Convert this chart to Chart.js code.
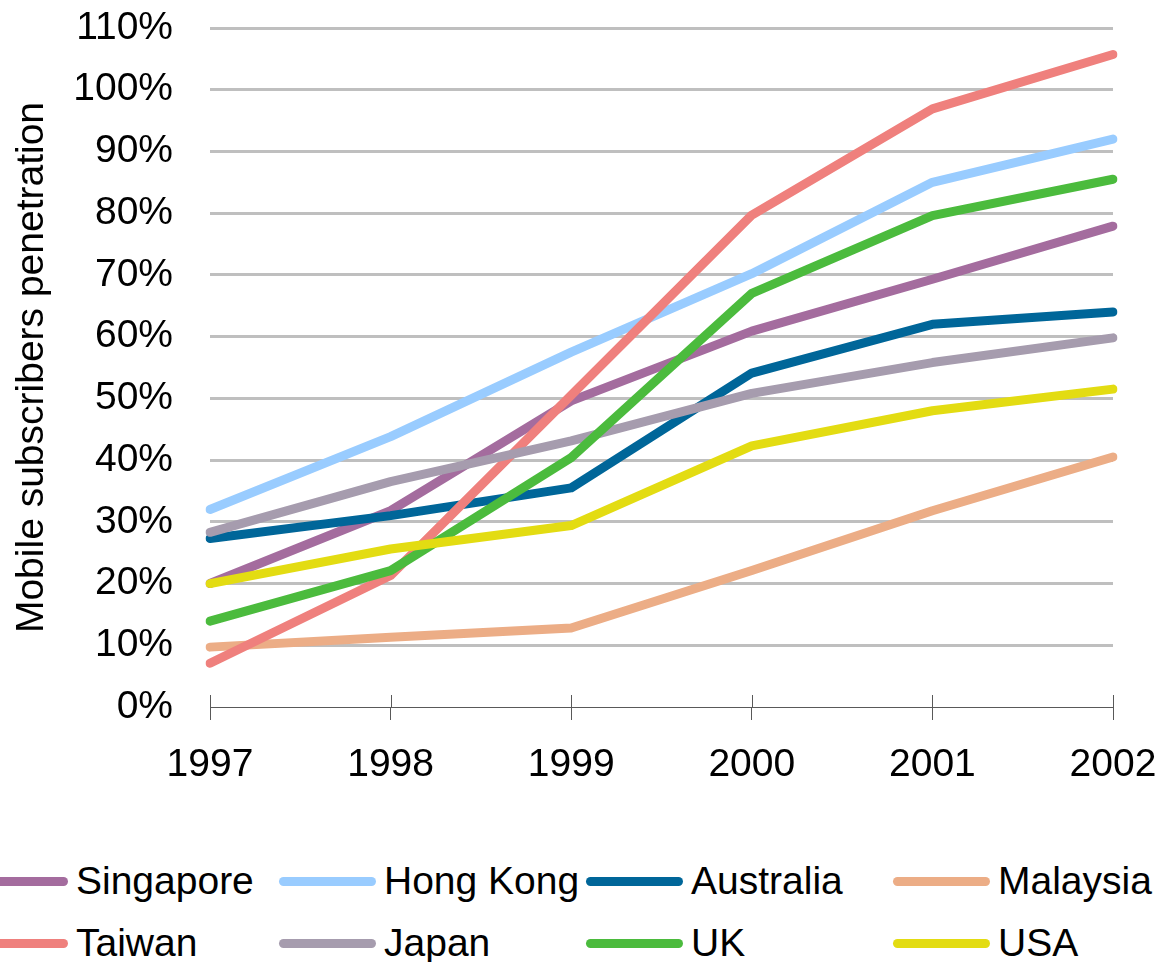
<!DOCTYPE html>
<html>
<head>
<meta charset="utf-8">
<script src="https://cdn.jsdelivr.net/npm/chart.js@4"></script>
<style>
body { margin: 0; background: #fff; }
#wrap { position: relative; width: 1162px; height: 962px; overflow: hidden; }
#box { position: absolute; left: 0; top: 0; width: 1162px; height: 840px; }
.leg { position: absolute; font: 39px "Liberation Sans", Arial, sans-serif; color: #000; white-space: nowrap; line-height: 40px; padding-left: 105px; }
.leg span { position: absolute; left: 0; top: 16px; width: 97px; height: 9px; border-radius: 5px; }
</style>
</head>
<body>
<div id="wrap">
  <div id="box"><canvas id="draw"></canvas></div>
  <div id="legend"></div>
</div>
<script>
const years = ["1997", "1998", "1999", "2000", "2001", "2002"];
const names = ["Singapore", "Hong Kong", "Australia", "Malaysia", "Taiwan", "Japan", "UK", "USA"];
const colors = ["#A46C9E", "#99CCFF", "#006699", "#ECAD86", "#EF807D", "#A69CAE", "#4BBB3D", "#E3DC12"];

// penetration in %
const singapore = [20, 31.8, 49.6, 60.9, 69.3, 77.9];
const hongKong = [32, 43.8, 57.5, 70.2, 85, 92];
const australia = [27.3, 31, 35.5, 54.1, 62, 64];
const malaysia = [9.7, 11.3, 12.8, 22.1, 31.8, 40.5];
const taiwan = [7.1, 21.3, 50.5, 79.7, 96.9, 105.7];
const japan = [28.3, 36.5, 43.1, 50.8, 55.8, 59.8];
const uk = [13.9, 22.1, 40.4, 67, 79.6, 85.5];
const usa = [20, 25.6, 29.4, 42.3, 48, 51.5];

const series = [singapore, hongKong, australia, malaysia, taiwan, japan, uk, usa];

const FONT = "'Liberation Sans', Arial, sans-serif";

// small tick stubs above the x axis, like the original
const tickUp = {
	id: "tickUp",
	beforeDatasetsDraw(chart) {
		const x = chart.scales.x;
		const ctx = chart.ctx;
		ctx.save();
		ctx.strokeStyle = "#595959";
		ctx.lineWidth = 1;
		for (let i = 0; i < x.ticks.length; i++) {
			const px = Math.round(x.getPixelForTick(i)) + 0.5;
			ctx.beginPath();
			ctx.moveTo(px, x.top - 12);
			ctx.lineTo(px, x.top);
			ctx.stroke();
		}
		ctx.restore();
	},
};

const config = {
	type: "line",
	data: {
		labels: years,
		datasets: series.map((d, i) => ({
			label: names[i],
			data: d,
			borderColor: colors[i],
			backgroundColor: colors[i],
			borderWidth: 9,
			borderCapStyle: "round",
			borderJoinStyle: "round",
			pointRadius: 0,
			tension: 0,
			order: names.length - i,
		})),
	},
	options: {
		responsive: true,
		maintainAspectRatio: false,
		animation: false,
		layout: { padding: { top: 28, right: 49, left: 0, bottom: 0 } },
		plugins: {
			legend: { display: false },
			tooltip: { enabled: false },
		},
		scales: {
			x: {
				offset: false,
				afterFit: (s) => {
					s.height = 133;
					s.paddingLeft = 0;
					s.paddingRight = 0;
				},
				grid: { drawOnChartArea: false, tickLength: 13, color: "#595959", lineWidth: 1 },
				border: { display: true, color: "#595959", width: 1 },
				ticks: { color: "#000", padding: 22, font: { family: FONT, size: 39 }, maxRotation: 0 },
			},
			y: {
				min: 0,
				max: 110,
				afterFit: (s) => {
					s.width = 210;
					s.paddingTop = 0;
					s.paddingBottom = 0;
				},
				grid: {
					drawTicks: false,
					lineWidth: 3,
					color: (c) => (c.tick && c.tick.value === 0 ? "rgba(0,0,0,0)" : "#BFBFBF"),
				},
				border: { display: false },
				ticks: {
					stepSize: 10,
					padding: 37,
					color: "#000",
					font: { family: FONT, size: 39 },
					callback: function (value) {
						return value + "%";
					},
				},
				title: {
					display: true,
					text: "Mobile subscribers penetration",
					color: "#000",
					font: { family: FONT, size: 39 },
					padding: { top: 9, bottom: 0 },
				},
			},
		},
	},
	plugins: [tickUp],
};

const myChart = new Chart(document.getElementById("draw").getContext("2d"), config);

// legend grid built from the chart's datasets
const legendCols = [-29, 279, 586, 893];
const legendRows = [861, 923];
const legendEl = document.getElementById("legend");
myChart.data.datasets.forEach((ds, i) => {
	const item = document.createElement("div");
	item.className = "leg";
	item.style.left = legendCols[i % 4] + "px";
	item.style.top = legendRows[Math.floor(i / 4)] + "px";
	const sw = document.createElement("span");
	sw.style.background = ds.borderColor;
	item.appendChild(sw);
	item.appendChild(document.createTextNode(ds.label));
	legendEl.appendChild(item);
});
</script>
</body>
</html>
